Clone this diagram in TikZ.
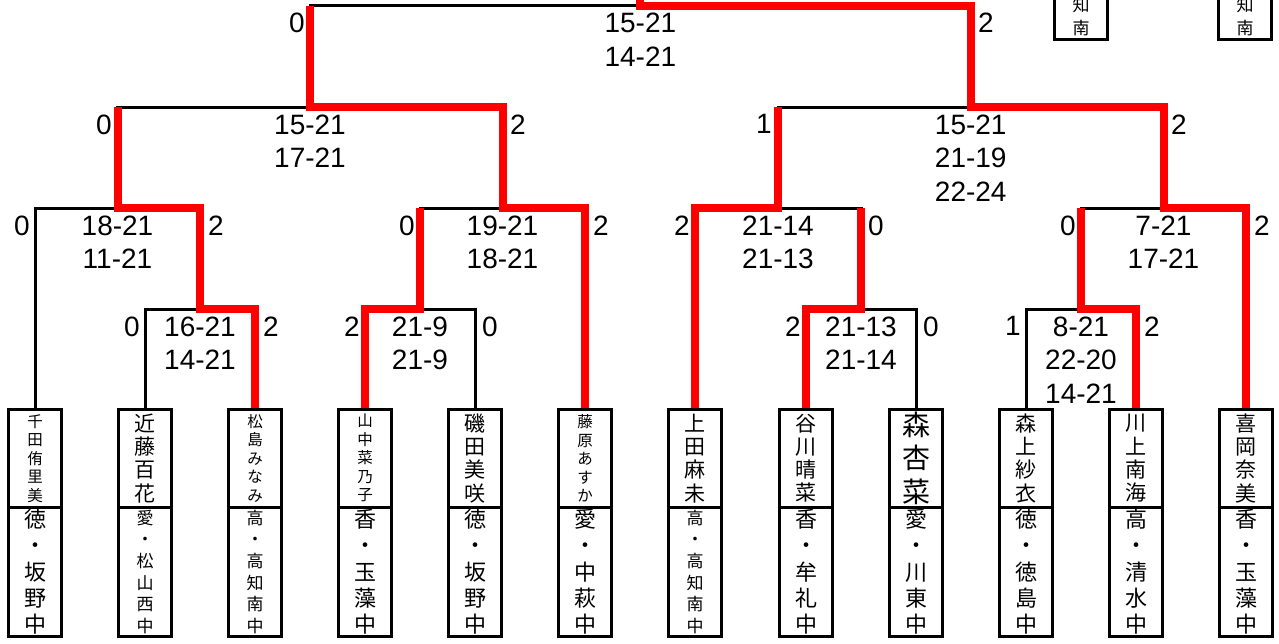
\documentclass[tikz,border=0pt]{standalone}
\usepackage{fontspec}
\setmainfont{Liberation Sans}
\newfontfamily\cjk{Noto Sans CJK JP}
\usetikzlibrary{calc}
\definecolor{winred}{RGB}{255,0,0}
\begin{document}
\begin{tikzpicture}[x=1pt,y=-1pt,
  blk/.style={line width=3pt, line join=miter, black},
  winpath/.style={line width=8pt, line join=miter, winred},
  boxbase/.style={draw, line width=3pt, minimum width=53pt, inner sep=0pt, align=center},
  nbox/.style={boxbase, minimum height=97.5pt},
  sbox/.style={boxbase, minimum height=129.5pt},
  nthree/.style={nbox, font=\cjk\fontsize{28}{33.5}\selectfont},
  nfour/.style={nbox, font=\cjk\fontsize{21}{23.3}\selectfont},
  nfive/.style={nbox, font=\cjk\fontsize{15.5}{18.5}\selectfont},
  sfive/.style={sbox, font=\cjk\fontsize{22}{26.25}\selectfont},
  ssix/.style={sbox, font=\cjk\fontsize{17}{21.6}\selectfont},
  toptxt/.style={inner sep=0pt, align=center, font=\cjk\fontsize{17}{22.5}\selectfont},
  score/.style={anchor=north, inner sep=0pt, align=center, font=\fontsize{28}{33.5}\selectfont},
  wl/.style={anchor=north east, inner sep=0pt, font=\fontsize{28}{33.5}\selectfont},
  wr/.style={anchor=north west, inner sep=0pt, font=\fontsize{28}{33.5}\selectfont}
]
\useasboundingbox (0,0) rectangle (1279,643);
\clip (0,0) rectangle (1279,643);

% player boxes
\node[nfive] (n1) at (35,458.25) {千\\田\\侑\\里\\美};
\node[sfive] (c1) at (35,571.75) {徳\\・\\坂\\野\\中};
\node[nfour] (n2) at (145,458.25) {近\\藤\\百\\花};
\node[ssix] (c2) at (145,571.75) {愛\\・\\松\\山\\西\\中};
\node[nfive] (n3) at (255,458.25) {松\\島\\み\\な\\み};
\node[ssix] (c3) at (255,571.75) {高\\・\\高\\知\\南\\中};
\node[nfive] (n4) at (365,458.25) {山\\中\\菜\\乃\\子};
\node[sfive] (c4) at (365,571.75) {香\\・\\玉\\藻\\中};
\node[nfour] (n5) at (475,458.25) {磯\\田\\美\\咲};
\node[sfive] (c5) at (475,571.75) {徳\\・\\坂\\野\\中};
\node[nfive] (n6) at (585,458.25) {藤\\原\\あ\\す\\か};
\node[sfive] (c6) at (585,571.75) {愛\\・\\中\\萩\\中};
\node[nfour] (n7) at (695,458.25) {上\\田\\麻\\未};
\node[ssix] (c7) at (695,571.75) {高\\・\\高\\知\\南\\中};
\node[nfour] (n8) at (806,458.25) {谷\\川\\晴\\菜};
\node[sfive] (c8) at (806,571.75) {香\\・\\牟\\礼\\中};
\node[nthree] (n9) at (916,458.25) {森\\杏\\菜};
\node[sfive] (c9) at (916,571.75) {愛\\・\\川\\東\\中};
\node[nfour] (n10) at (1026,458.25) {森\\上\\紗\\衣};
\node[sfive] (c10) at (1026,571.75) {徳\\・\\徳\\島\\中};
\node[nfour] (n11) at (1136,458.25) {川\\上\\南\\海};
\node[sfive] (c11) at (1136,571.75) {高\\・\\清\\水\\中};
\node[nfour] (n12) at (1246,458.25) {喜\\岡\\奈\\美};
\node[sfive] (c12) at (1246,571.75) {香\\・\\玉\\藻\\中};

% partial boxes at top right
\node[boxbase, minimum height=99.5pt] (t1) at (1081,-10.25) {};
\node[toptxt] (t1x) at (1081,16.75) {知\\南};
\node[boxbase, minimum height=99.5pt] (t2) at (1245,-10.25) {};
\node[toptxt] (t2x) at (1245,16.75) {知\\南};

% match points
\coordinate (mA) at (200,309);
\coordinate (mB) at (420,309);
\coordinate (mC) at (861,309);
\coordinate (mD) at (1081,309);
\coordinate (q1) at (117.5,208);
\coordinate (q2) at (502.5,208);
\coordinate (q3) at (778,208);
\coordinate (q4) at (1163.5,208);
\coordinate (s1) at (310,107);
\coordinate (s2) at (970.75,107);
\coordinate (f) at (640.4,5.5);
\coordinate (champ) at (640.4,-20);

% black brackets
\draw[blk] (n2.north) |- (mA) -| (n3.north);
\draw[blk] (n4.north) |- (mB) -| (n5.north);
\draw[blk] (n8.north) |- (mC) -| (n9.north);
\draw[blk] (n10.north) |- (mD) -| (n11.north);
\draw[blk] (n1.north) |- (q1) -| (mA);
\draw[blk] (mB) |- (q2) -| (n6.north);
\draw[blk] (n7.north) |- (q3) -| (mC);
\draw[blk] (mD) |- (q4) -| (n12.north);
\draw[blk] (q1) |- (s1) -| (q2);
\draw[blk] (q3) |- (s2) -| (q4);
\draw[blk] (s1) |- (f) -| (s2);

% winner paths
\draw[winpath] (n3.north) |- (mA) |- (q1) -- (q1 |- s1);
\draw[winpath] (n4.north) |- (mB) -- (mB |- q2);
\draw[winpath] (n6.north) |- (q2) |- (s1) -- (s1 |- f);
\draw[winpath] (n7.north) |- (q3) -- (q3 |- s2);
\draw[winpath] (n8.north) |- (mC) -- (mC |- q3);
\draw[winpath] (n11.north) |- (mD) -- (mD |- q4);
\draw[winpath] (n12.north) |- (q4) |- (s2) |- (f) -- (champ);

% final
\node[wl] (fL) at (305,13) {0};
\node[wr] (fR) at (978,13) {2};
\node[score] (fS) at (640.4,13) {15-21\\14-21};
% semis
\node[wl] (s1L) at (112,114.5) {0};
\node[wr] (s1R) at (510,114.5) {2};
\node[score] (s1S) at (310,114.5) {15-21\\17-21};
\node[wl] (s2L) at (772,114.5) {1};
\node[wr] (s2R) at (1171,114.5) {2};
\node[score] (s2S) at (970.75,114.5) {15-21\\21-19\\22-24};
% quarters
\node[wl] (q1L) at (30,215.5) {0};
\node[wr] (q1R) at (208,215.5) {2};
\node[score] (q1S) at (117.5,215.5) {18-21\\11-21};
\node[wl] (q2L) at (415,215.5) {0};
\node[wr] (q2R) at (593,215.5) {2};
\node[score] (q2S) at (502.5,215.5) {19-21\\18-21};
\node[wl] (q3L) at (690,215.5) {2};
\node[wr] (q3R) at (868,215.5) {0};
\node[score] (q3S) at (778,215.5) {21-14\\21-13};
\node[wl] (q4L) at (1076,215.5) {0};
\node[wr] (q4R) at (1254,215.5) {2};
\node[score] (q4S) at (1163.5,215.5) {7-21\\17-21};
% first round
\node[wl] (mAL) at (140,316.5) {0};
\node[wr] (mAR) at (263,316.5) {2};
\node[score] (mAS) at (200,316.5) {16-21\\14-21};
\node[wl] (mBL) at (360,316.5) {2};
\node[wr] (mBR) at (482,316.5) {0};
\node[score] (mBS) at (420,316.5) {21-9\\21-9};
\node[wl] (mCL) at (801,316.5) {2};
\node[wr] (mCR) at (923,316.5) {0};
\node[score] (mCS) at (861,316.5) {21-13\\21-14};
\node[wl] (mDL) at (1021,316.5) {1};
\node[wr] (mDR) at (1144,316.5) {2};
\node[score] (mDS) at (1081,316.5) {8-21\\22-20\\14-21};
\end{tikzpicture}
\end{document}
